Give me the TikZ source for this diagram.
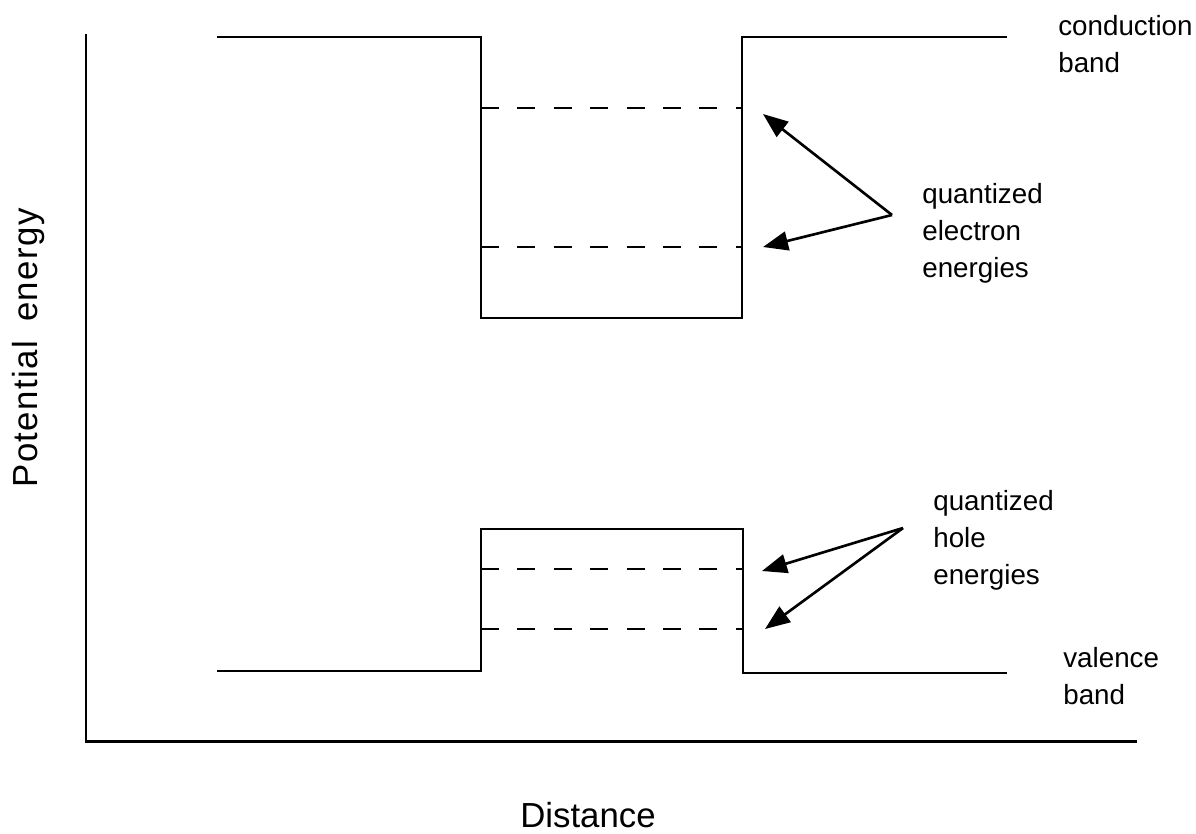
\documentclass[tikz,border=0pt]{standalone}
\usepackage{fontspec}
\setmainfont{Liberation Sans}
\usetikzlibrary{arrows.meta}
\begin{document}
\begin{tikzpicture}[x=0.02cm,y=-0.02cm,
  axis/.style={line width=1.7pt},
  band/.style={line width=1.5pt},
  level/.style={line width=1.5pt, dash pattern=on 0.36cm off 0.368cm},
  lab/.style={font=\fontsize{15.8}{21}\selectfont, align=left, anchor=north west, inner sep=0pt},
  big/.style={font=\fontsize{19.8}{23}\selectfont, inner sep=0pt},
  ptr/.style={line width=1.5pt, -{Triangle[length=0.5cm,width=0.38cm]}}]
\fill[white] (0,0) rectangle (1196,833);
\useasboundingbox (0,0) rectangle (1196,833);
% axes
\draw[axis] (86,34) -- (86,741) -- (1137,741);
% conduction band well
\draw[band] (217,37) -- (481,37) -- (481,318) -- (742,318) -- (742,37) -- (1007,37);
\draw[level] (481,108) -- (742,108);
\draw[level] (481,247) -- (742,247);
% valence band barrier
\draw[band] (217,671) -- (481,671) -- (481,529) -- (743,529) -- (743,673) -- (1007,673);
\draw[level] (481,569) -- (743,569);
\draw[level] (481,629) -- (743,629);
% labels
\node[lab] (cb) at (1058,15) {conduction\\band};
\node[lab] (qe) at (922,183) {quantized\\electron\\energies};
\node[lab] (qh) at (933,490) {quantized\\hole\\energies};
\node[lab] (vb) at (1063,647) {valence\\band};
\node[big, anchor=base] (dist) at (588,827) {Distance};
\node[big, rotate=90, anchor=base] (pe) at (37,348) {\addfontfeatures{LetterSpace=4}Potential\hspace{0.55em}energy};
% arrows
\coordinate (eA) at (892,215);
\coordinate (e1) at (763,114);
\coordinate (e2) at (763,247);
\coordinate (hA) at (903,528);
\coordinate (h1) at (762,571);
\coordinate (h2) at (765,629);
\draw[ptr] (eA) -- (e1);
\draw[ptr] (eA) -- (e2);
\draw[ptr] (hA) -- (h1);
\draw[ptr] (hA) -- (h2);
\end{tikzpicture}
\end{document}
